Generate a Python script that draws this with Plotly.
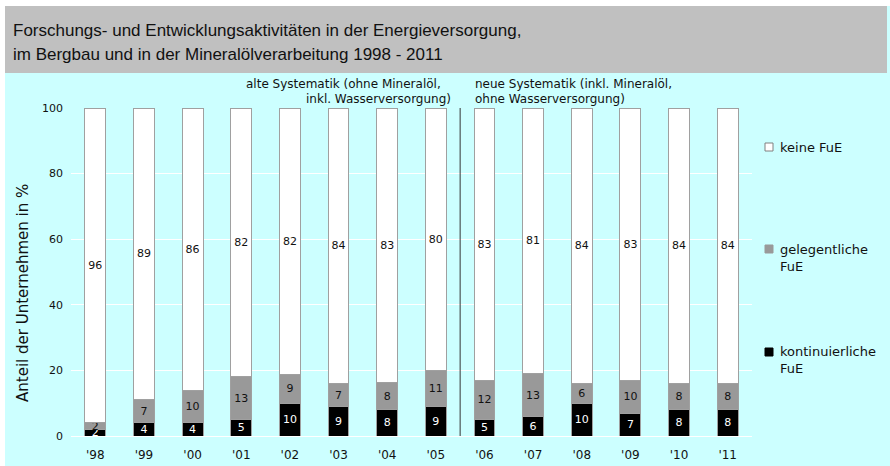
import plotly.graph_objects as go

years = ["'98", "'99", "'00", "'01", "'02", "'03", "'04", "'05",
         "'06", "'07", "'08", "'09", "'10", "'11"]
kontinuierliche = [2, 4, 4, 5, 10, 9, 8, 9, 5, 6, 10, 7, 8, 8]
gelegentliche = [2, 7, 10, 13, 9, 7, 8, 11, 12, 13, 6, 10, 8, 8]
keine = [96, 89, 86, 82, 82, 84, 83, 80, 83, 81, 84, 83, 84, 84]

series_names = ["kontinuierliche<br>FuE", "gelegentliche<br>FuE", "keine FuE"]
title_lines = ["Forschungs- und Entwicklungsaktivitäten in der Energieversorgung,",
               "im Bergbau und in der Mineralölverarbeitung 1998 - 2011"]
y_title = "Anteil der Unternehmen in %"
note_old = ["alte Systematik (ohne Mineralöl,", "inkl. Wasserversorgung)"]
note_new = ["neue Systematik (inkl. Mineralöl,", "ohne Wasserversorgung)"]

W, H = 890, 466
L, R, T, B = 71, 138, 108, 30
PW = W - L - R
PH = H - T - B

def px(x):
    return (x - L) / PW

def py(y):
    return (H - B - y) / PH

FONT = "DejaVu Sans"
CYAN = "#CCFFFF"
TXT = "#111111"

colors = ["#000000", "#999999", "#FFFFFF"]
text_colors = ["white", TXT, TXT]
values = [kontinuierliche, gelegentliche, keine]

fig = go.Figure()
for name, vals, col, tcol in zip(series_names, values, colors, text_colors):
    fig.add_trace(go.Bar(
        x=years, y=vals, name=name, showlegend=False,
        marker=dict(color=col, line=dict(color="#A0A0A0", width=1)),
        text=[str(v) for v in vals], textposition="inside",
        insidetextanchor="middle", textangle=0, constraintext="none",
        textfont=dict(family=FONT, size=11, color=tcol),
        width=0.43,
    ))

shapes = [
    dict(type="rect", xref="paper", yref="paper", x0=px(5), x1=px(890), y0=py(466), y1=py(6),
         fillcolor=CYAN, line=dict(width=0), layer="below"),
    dict(type="rect", xref="paper", yref="paper", x0=px(5), x1=px(887), y0=py(73), y1=py(6),
         fillcolor="#C0C0C0", line=dict(width=0), layer="below"),
    dict(type="line", xref="x", yref="y", x0=7.5, x1=7.5, y0=0, y1=100,
         line=dict(color="#333333", width=1)),
]

annotations = [
    dict(text=title_lines[0], x=px(11), y=py(30), xanchor="left", yanchor="middle"),
    dict(text=title_lines[1], x=px(11), y=py(54), xanchor="left", yanchor="middle"),
]
for a in annotations:
    a.update(xref="paper", yref="paper", showarrow=False,
             font=dict(family="Liberation Sans", size=17, color=TXT))
notes = [
    (note_old[0], 443, 84, "right"), (note_old[1], 453, 99, "right"),
    (note_new[0], 473, 84, "left"), (note_new[1], 473, 99, "left"),
]
for t, x, y, anc in notes:
    annotations.append(dict(text=t, x=px(x), y=py(y), xref="paper", yref="paper",
                            xanchor=anc, yanchor="middle", showarrow=False,
                            font=dict(family=FONT, size=12, color=TXT)))

# y-axis title
annotations.append(dict(text=y_title, x=px(23), y=py(293), xref="paper", yref="paper",
                        xanchor="center", yanchor="middle", textangle=-90, showarrow=False,
                        font=dict(family=FONT, size=15, color=TXT)))

# custom legend (top to bottom: keine, gelegentliche, kontinuierliche)
legend_pos = [(348, 360), (245, 258), (143, 147)]  # (square top, text centre) per series
for name, col, (sq_top, tc) in zip(series_names, colors, legend_pos):
    shapes.append(dict(type="rect", xref="paper", yref="paper",
                       x0=px(765), x1=px(773), y0=py(sq_top + 8), y1=py(sq_top),
                       fillcolor=col, line=dict(color="#808080" if col == "#FFFFFF" else col, width=1)))
    annotations.append(dict(text=name, x=px(778), y=py(tc), xref="paper", yref="paper",
                            xanchor="left", yanchor="middle", align="left", showarrow=False,
                            font=dict(family=FONT, size=13, color=TXT)))

fig.update_layout(
    width=W, height=H, margin=dict(l=L, r=R, t=T, b=B, autoexpand=False),
    paper_bgcolor="white", plot_bgcolor=CYAN,
    barmode="stack", barnorm="percent",
    uniformtext=dict(minsize=11, mode="show"),
    showlegend=False,
    shapes=shapes, annotations=annotations,
    xaxis=dict(type="category", showgrid=False, showline=False, ticks="",
               tickfont=dict(family=FONT, size=12, color=TXT),
               ticklabelstandoff=10, fixedrange=True),
    yaxis=dict(range=[0, 100], dtick=20, showgrid=True, gridcolor="white", gridwidth=1,
               zeroline=True, zerolinecolor="white", zerolinewidth=1,
               showline=False, ticks="", ticklabelstandoff=7,
               tickfont=dict(family=FONT, size=11, color=TXT),
               fixedrange=True),
)

fig.write_html("out.html", config={"displayModeBar": False},
               post_script="document.body.style.margin='0';")
